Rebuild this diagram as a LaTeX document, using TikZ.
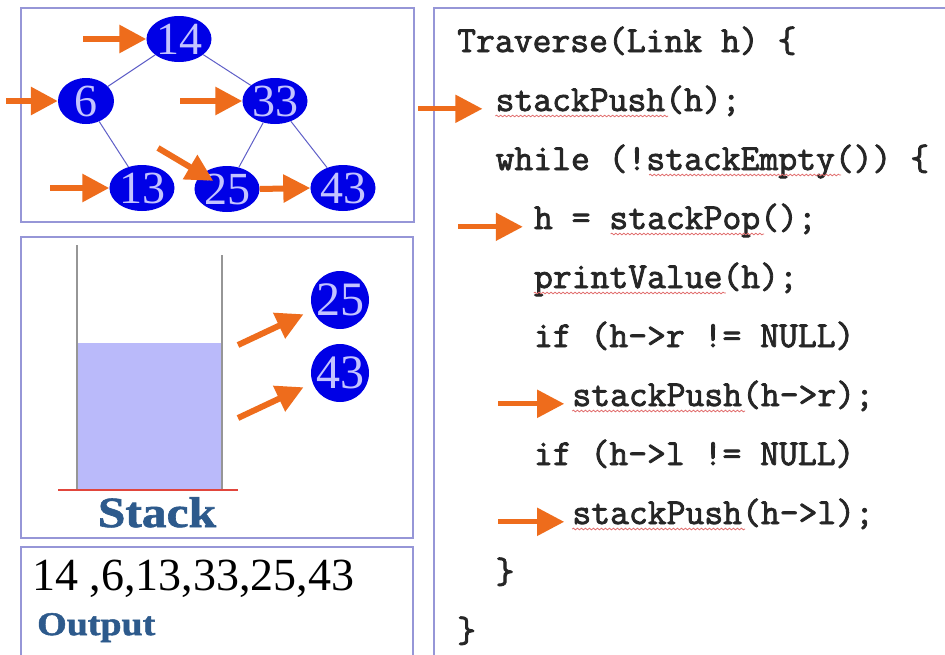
\documentclass[tikz,border=0pt]{standalone}
\usepackage{fontspec}
\setmainfont{Liberation Serif}
\newfontfamily\codefont[FakeBold=2.2]{Latin Modern Mono}
\newfontfamily\widebold[FakeStretch=1.15,FakeBold=1.5]{Liberation Serif Bold}
\usetikzlibrary{arrows.meta,decorations.pathmorphing,shapes.geometric,calc}

\definecolor{panelline}{RGB}{150,150,215}
\definecolor{nodeblue}{RGB}{0,0,230}
\definecolor{nodetext}{RGB}{195,195,255}
\definecolor{edgeblue}{RGB}{95,95,200}
\definecolor{ptrorange}{RGB}{238,108,28}
\definecolor{stackfill}{RGB}{186,186,250}
\definecolor{wallgray}{RGB}{150,150,150}
\definecolor{basered}{RGB}{225,70,60}
\definecolor{labelblue}{RGB}{45,90,140}
\definecolor{squigred}{RGB}{225,110,110}

\tikzset{
  panel/.style={draw=panelline, line width=1.3pt},
  treenode/.style={ellipse, fill=nodeblue, minimum width=56pt, minimum height=46pt,
    inner sep=0pt, text=nodetext, font=\fontsize{46}{46}\selectfont},
  stacknode/.style={circle, fill=nodeblue, minimum size=58pt, inner sep=0pt,
    text=nodetext, font=\fontsize{48}{48}\selectfont},
  treeedge/.style={draw=edgeblue, line width=1pt},
  ptr/.style={draw=ptrorange, line width=6pt, -{Triangle[length=27pt,width=27pt]}},
  codeline/.style={anchor=base west, inner sep=0pt, text=black!85,
    font=\codefont\fontsize{36.6}{36.6}\selectfont,
    text height=0.62em, text depth=0.18em},
  squig/.style={draw=squigred, line width=0.8pt, decorate,
    decoration={snake, segment length=4pt, amplitude=0.8pt}},
  label/.style={inner sep=0pt, text=labelblue},
}

\begin{document}
\begin{tikzpicture}[x=1pt, y=-1pt]
\useasboundingbox (0,0) rectangle (945,654);
\fill[white] (0,0) rectangle (945,654);

% panel frames
\begin{scope}
  \clip (0,0) rectangle (945,654);
  \draw[panel] (21,8) rectangle (414,222);
  \draw[panel] (21,237) rectangle (413,538);
  \draw[panel] (21,547) rectangle (413,670);
  \draw[panel] (434,8) rectangle (960,670);
\end{scope}

% binary tree
\node[treenode] (n14) at (179,39) {14};
\node[treenode] (n6)  at (86,101) {6};
\node[treenode] (n33) at (275,101) {33};
\node[treenode] (n13) at (142,188) {13};
\node[treenode] (n25) at (227,189) {25};
\node[treenode] (n43) at (343,188) {43};
\draw[treeedge] (n14) -- (n6);
\draw[treeedge] (n14) -- (n33);
\draw[treeedge] (n6) -- (n13);
\draw[treeedge] (n33) -- (n25);
\draw[treeedge] (n33) -- (n43);

% visiting order pointers
\coordinate (t14) at (83,39);
\coordinate (t6)  at (6,101);
\coordinate (t33) at (180,101);
\coordinate (t13) at (50,188);
\coordinate (t25) at (158,148);
\draw[ptr] (t14) -- (n14.west);
\draw[ptr] (t6) -- (n6.west);
\draw[ptr] (t33) -- (n33.west);
\draw[ptr] (t13) -- (n13.west);
\draw[ptr, shorten >=16pt] (t25) -- (n25.center);
\draw[ptr] (n25.east) -- (n43.west);

% stack
\fill[stackfill] (77,343) rectangle (222,490);
\draw[wallgray, line width=1.2pt] (77,245) -- (77,490);
\draw[wallgray, line width=1.2pt] (222,255) -- (222,490);
\draw[basered, line width=1.5pt] (58,490) -- (238,490);
\node[label, anchor=base, font=\widebold\fontsize{43}{43}\selectfont] (stacklbl) at (157,527) {Stack};

\node[stacknode] (s25) at (340,300) {25};
\node[stacknode] (s43) at (340,373) {43};
\coordinate (sa) at (238,345);
\coordinate (sb) at (238,418);
\draw[ptr, shorten >=10pt] (sa) -- (s25.200);
\draw[ptr, shorten >=10pt] (sb) -- (s43.200);

% output
\node[anchor=base west, inner sep=0pt, font=\fontsize{46}{46}\selectfont] (outvals) at (32,590) {14 ,6,13,33,25,43};
\node[label, anchor=base west, font=\widebold\fontsize{33}{33}\selectfont] (outlbl) at (37,635) {Output};

% code listing
\node[codeline] (c0)  at (457.0,52)  {Traverse(Link h) \{};
\node[codeline] (c1)  at (495.4,111) {stackPush(h);};
\node[codeline] (c2)  at (495.4,170) {while (!stackEmpty()) \{};
\node[codeline] (c3)  at (533.8,229) {h = stackPop();};
\node[codeline] (c4)  at (533.8,288) {printValue(h);};
\node[codeline] (c5)  at (533.8,347) {if (h->r != NULL)};
\node[codeline] (c6)  at (572.2,406) {stackPush(h->r);};
\node[codeline] (c7)  at (533.8,465) {if (h->l != NULL)};
\node[codeline] (c8)  at (572.2,524) {stackPush(h->l);};
\node[codeline] (c9)  at (495.4,583) {\}};
\node[codeline] (c10) at (457.0,642) {\}};

% spell-check underlines
\draw[squig] ($(c1.base west)+(0,5)$) -- ++(172.8,0);
\draw[squig] ($(c2.base west)+(153.6,5)$) -- ++(192,0);
\draw[squig] ($(c3.base west)+(76.8,5)$) -- ++(153.6,0);
\draw[squig] ($(c4.base west)+(0,5)$) -- ++(192,0);
\draw[squig] ($(c6.base west)+(0,5)$) -- ++(172.8,0);
\draw[squig] ($(c8.base west)+(0,5)$) -- ++(172.8,0);

% execution pointers
\coordinate (p1) at (418,0);
\coordinate (p3) at (458,0);
\coordinate (p6) at (498,0);
\coordinate (p8) at (498,0);
\draw[ptr, line width=5pt, shorten >=13pt] (p1 |- c1.west) -- (c1.west);
\draw[ptr, line width=5pt, shorten >=11pt] (p3 |- c3.west) -- (c3.west);
\draw[ptr, line width=5pt, shorten >=8pt] (p6 |- c6.west) -- (c6.west);
\draw[ptr, line width=5pt, shorten >=8pt] (p8 |- c8.west) -- (c8.west);
\end{tikzpicture}
\end{document}
